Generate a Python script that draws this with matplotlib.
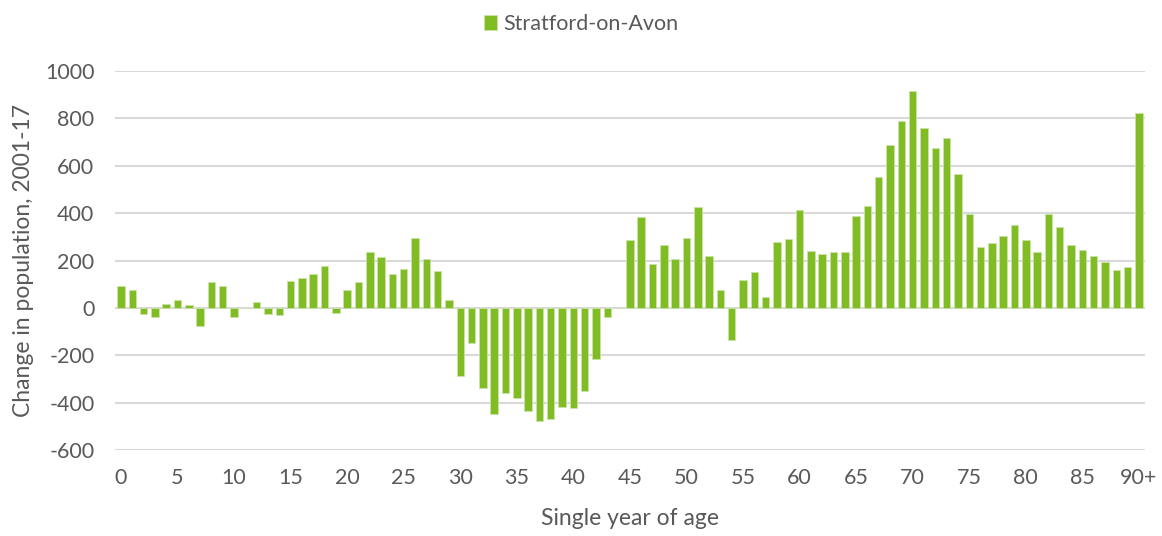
import numpy as np
import matplotlib
matplotlib.use("Agg")
import matplotlib.pyplot as plt

# change in population 2001-17 by single year of age (0 .. 90+)
ages = list(range(91))
change = [
    92, 75, -25, -38, 15, 35, 11, -76, 108, 92,          # 0-9
    -37, 0, 24, -24, -31, 113, 127, 145, 175, -20,       # 10-19
    75, 111, 235, 216, 143, 166, 295, 207, 156, 35,      # 20-29
    -288, -149, -340, -450, -360, -379, -437, -479, -471, -417,  # 30-39
    -423, -349, -217, -37, 0, 285, 385, 185, 266, 206,   # 40-49
    297, 427, 221, 76, -134, 118, 151, 45, 279, 289,     # 50-59
    412, 240, 227, 237, 236, 388, 430, 553, 688, 790,    # 60-69
    917, 761, 677, 716, 564, 397, 259, 276, 302, 348,    # 70-79
    287, 235, 396, 343, 266, 246, 217, 193, 159, 173,    # 80-89
    821,                                                 # 90+
]
tick_pos = list(range(0, 91, 5))
tick_labels = [str(a) for a in range(0, 90, 5)] + ["90+"]
yticks = list(range(-600, 1001, 200))

green = "#80BC24"
grey_text = "#595959"
plt.rcParams['font.family'] = ['Lato', 'DejaVu Sans']

fig = plt.figure(figsize=(11.62, 5.36), dpi=100)
ax = fig.add_axes([0.0992, 0.1604, 0.8858, 0.7071])

ax.bar(ages, change, width=0.66, color=green, edgecolor="#C9E3A6",
       linewidth=0.6, zorder=3, label="Stratford-on-Avon")

ax.set_xlim(-0.5, 90.5)
ax.set_ylim(-600, 1000)
ax.set_yticks(yticks)
ax.set_yticklabels([str(v) for v in yticks])
ax.set_xticks(tick_pos)
ax.set_xticklabels(tick_labels)
ax.yaxis.grid(True, color="#D9D9D9", linewidth=1.5, zorder=0)
ax.set_axisbelow(True)
for s in ax.spines.values():
    s.set_visible(False)
ax.tick_params(axis="both", length=0, labelsize=15.5, colors=grey_text)
ax.tick_params(axis="y", pad=15)
ax.tick_params(axis="x", pad=13)

ax.set_xlabel("Single year of age", fontsize=16.5, color=grey_text, labelpad=14)
ax.set_ylabel("Change in population, 2001-17", fontsize=16.5, color=grey_text, labelpad=8)

fig.legend(loc="upper center", bbox_to_anchor=(0.5, 1.01), frameon=False,
           fontsize=15.5, labelcolor=grey_text, handlelength=0.6, handleheight=0.7,
           handletextpad=0.3)

fig.savefig("out.png", dpi=100)
